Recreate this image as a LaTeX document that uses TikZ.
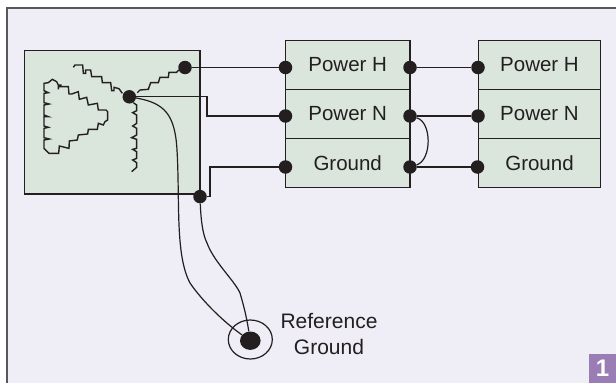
\documentclass[tikz,border=0pt]{standalone}
\usepackage{fontspec}
\setmainfont{Liberation Sans}
\usetikzlibrary{shapes.geometric}
\definecolor{ink}{HTML}{231F20}
\definecolor{panel}{HTML}{EFEDF5}
\definecolor{boxgreen}{HTML}{DAE6DC}
\definecolor{tagviolet}{HTML}{9A7DB5}
\begin{document}
\begin{tikzpicture}[x=1pt,y=-1pt,
    block/.style = {draw=ink, fill=boxgreen, line width=1.2pt, inner sep=0pt, text=ink, font=\fontsize{20.5}{24}\selectfont},
    row/.style = {block, minimum width=124.5pt, minimum height=49pt},
    rowb/.style = {block, minimum width=122.5pt, minimum height=49pt},
    dot/.style = {circle, fill=ink, inner sep=0pt, minimum size=13.5pt},
    wire/.style = {draw=ink, line width=1.2pt},
    coil/.style = {draw=ink, line width=1.4pt}]
  \useasboundingbox (0,0) rectangle (616,383);
  \fill[panel] (7,8) rectangle (616,383);
  \draw[ink!75, line width=1.6pt] (7,383) -- (7,8) -- (616,8);

  \node[block, minimum width=175.5pt, minimum height=143.5pt](src) at (112.2,122.2){};
  \node[row](ph1) at (347.7,65){Power H};
  \node[row](pn1) at (347.7,113.8){Power N};
  \node[row](gd1) at (347.7,162.7){Ground};
  \node[rowb](ph2) at (539.5,65){Power H};
  \node[rowb](pn2) at (539.5,113.8){Power N};
  \node[rowb](gd2) at (539.5,162.7){Ground};

  % coils of the source
  \begin{scope}[shift={(20,40)}, xscale=1/3, yscale=1/3]
    \draw[coil] (160,82) -- (165,75) -- (188,75) -- (190,100) -- (197,100) -- (197,90) -- (212,90) -- (215,110) -- (245,110) -- (247,128) -- (272,128) -- (275,152) -- (282,152) -- (282,142) -- (297,146) -- (307,160);
    \draw[coil] (352,158) -- (360,150) -- (385,148) -- (392,128) -- (415,128) -- (420,112) -- (445,112) -- (447,97) -- (470,97) -- (476,90);
    \draw[coil] (340,188) -- (350,195) -- (350,212) -- (338,218) -- (350,225) -- (350,250) -- (338,258) -- (350,265) -- (350,285) -- (335,293) -- (350,298) -- (350,325) -- (338,328) -- (350,335) -- (350,355) -- (338,360) -- (350,368) -- (350,382) -- (335,395);
    \draw[coil] (125,135) -- (115,135) -- (115,148) -- (115,140) -- (145,140) -- (147,162) -- (155,162) -- (175,155) -- (178,178) -- (200,172) -- (205,195) -- (232,190) -- (235,210) -- (258,210) -- (263,215) -- (263,240) -- (255,245) -- (250,255) -- (235,250) -- (232,268) -- (205,268) -- (203,282) -- (175,285) -- (172,300) -- (148,303) -- (147,325) -- (118,318) -- (116,340) -- (87,340) -- (72,325) -- (72,300) -- (88,297) -- (72,293) -- (72,265) -- (85,262) -- (72,258) -- (72,230) -- (85,230) -- (72,225) -- (72,195) -- (87,192) -- (72,188) -- (72,160) -- (85,158) -- (72,152) -- (72,130) -- (85,128) -- (97,118) -- (110,125) -- (115,135);
  \end{scope}

  \node[dot](hot) at (185,67.5){};
  \node[dot](star) at (129.3,96.8){};
  \node[dot](tap) at (200,196.6){};
  \node[dot](a1) at (285.5,67.5){};
  \node[dot](a2) at (285.5,116){};
  \node[dot](a3) at (285.5,167){};
  \node[dot](b1) at (410,67.5){};
  \node[dot](b2) at (410,116){};
  \node[dot](b3) at (410,167){};
  \node[dot](c1) at (478,67.5){};
  \node[dot](c2) at (478,116){};
  \node[dot](c3) at (477.5,167){};

  \node[ellipse, draw=ink, line width=1.2pt, minimum width=44pt, minimum height=39pt, inner sep=0pt](ring) at (250.3,339.5){};
  \node[ellipse, fill=ink, minimum width=20.6pt, minimum height=18.4pt, inner sep=0pt](earth) at (250.3,340.7){};
  \node[text=ink, align=center, font=\fontsize{21}{25.5}\selectfont](reflabel) at (329,334){Reference\\Ground};

  \draw[wire] (hot) -- (a1);
  \draw[wire] (star) -- ++(77.7,0) |- (a2);
  \draw[wire] (tap) -- ++(10,0) |- (a3);
  \draw[wire] (b1) -- (c1);
  \draw[wire] (b2) -- (c2);
  \draw[wire] (b3) -- (c3);
  \draw[wire] (b2) .. controls (432,122) and (432,160) .. (b3);
  \draw[wire] (star) .. controls (165,103) and (175,115) .. (177,150) .. controls (180,200) and (175,255) .. (190,283) .. controls (203,302) and (225,323) .. (earth);
  \draw[wire] (tap) .. controls (201,222) and (203,235) .. (207,243) .. controls (214,262) and (234,280) .. (240,293) .. controls (245,310) and (247,320) .. (earth);

  \node[fill=tagviolet, minimum width=27pt, minimum height=29pt, inner sep=0pt, text=white, font=\fontsize{24}{24}\selectfont\bfseries](tag) at (602.5,368.5){1};
\end{tikzpicture}
\end{document}
